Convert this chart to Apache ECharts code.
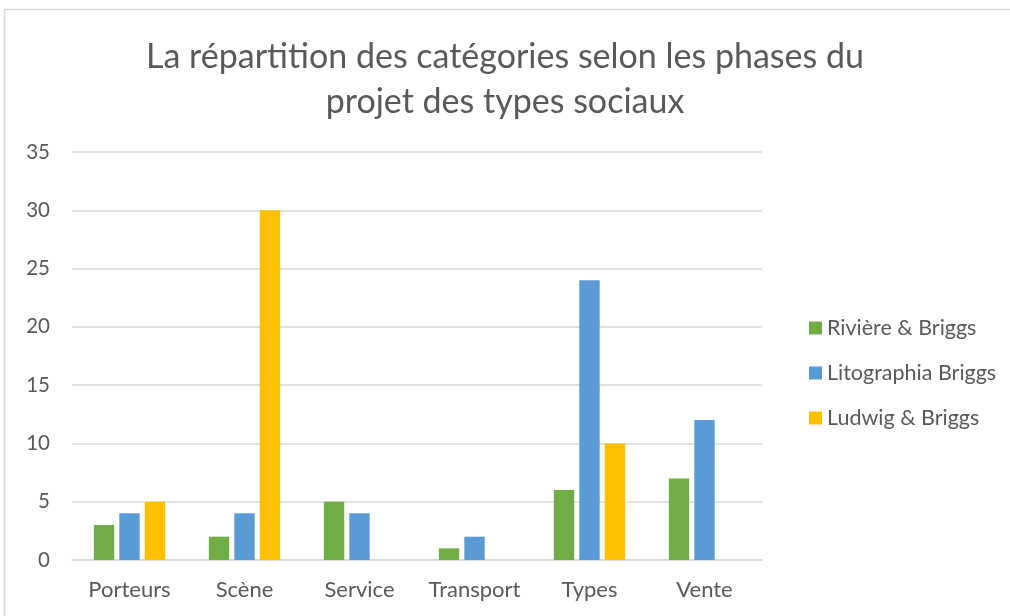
<!DOCTYPE html>
<html>
<head>
<meta charset="utf-8">
<script src="https://cdn.jsdelivr.net/npm/echarts@6/dist/echarts.min.js"></script>
<style>
html, body { margin: 0; padding: 0; background: #fff; }
#chart { width: 1010px; height: 616px; }
</style>
</head>
<body>
<div id="chart"></div>
<script>
// catégories et valeurs
var categories = ['Porteurs', 'Scène', 'Service', 'Transport', 'Types', 'Vente'];
var seriesNames = ['Rivière & Briggs', 'Litographia Briggs', 'Ludwig & Briggs'];
var riviere = [3, 2, 5, 1, 6, 7];
var litographia = [4, 4, 4, 2, 24, 12];
var ludwig = [5, 30, null, null, 10, null];
var colors = ['#70ad47', '#5b9bd5', '#ffc000'];

var font = 'Lato, "Open Sans", sans-serif';
var myChart = echarts.init(document.getElementById('chart'));

function makeSeries(name, data, color) {
	return {
		name: name,
		type: 'bar',
		data: data,
		barGap: '25%',
		barCategoryGap: '38%',
		itemStyle: { color: color }
	};
}

var option = {
	animation: false,
	color: colors,
	title: {
		text: 'La répartition des catégories selon les phases du\nprojet des types sociaux',
		left: 'center',
		top: 30,
		textStyle: {
			fontFamily: font,
			fontSize: 34,
			fontWeight: 'normal',
			color: '#595959',
			lineHeight: 45
		}
	},
	// cadre gris clair autour du graphique
	graphic: [{
		type: 'rect',
		shape: { x: 4.5, y: 9.5, width: 1010, height: 620 },
		style: { fill: 'none', stroke: '#d9d9d9', lineWidth: 1.5 },
		silent: true
	}],
	legend: {
		orient: 'vertical',
		left: 804,
		top: 312,
		itemWidth: 13,
		itemHeight: 13,
		itemGap: 23,
		icon: 'rect',
		data: seriesNames,
		textStyle: { fontFamily: font, fontSize: 21.5, color: '#595959' }
	},
	grid: {
		left: 72,
		right: 248,
		top: 152,
		bottom: 56
	},
	xAxis: [{
		type: 'category',
		data: categories,
		axisTick: { show: false },
		axisLine: { lineStyle: { color: '#d9d9d9', width: 1.5 } },
		axisLabel: { interval: 0, fontFamily: font, fontSize: 22, color: '#595959', margin: 19 }
	}],
	yAxis: [{
		type: 'value',
		min: 0,
		max: 35,
		interval: 5,
		axisLine: { show: false },
		axisTick: { show: false },
		splitLine: { lineStyle: { color: '#d9d9d9', width: 1.5 } },
		axisLabel: { fontFamily: font, fontSize: 20.5, color: '#595959', margin: 22 }
	}],
	series: [
		makeSeries(seriesNames[0], riviere, colors[0]),
		makeSeries(seriesNames[1], litographia, colors[1]),
		makeSeries(seriesNames[2], ludwig, colors[2])
	]
};
myChart.setOption(option);
</script>
</body>
</html>
